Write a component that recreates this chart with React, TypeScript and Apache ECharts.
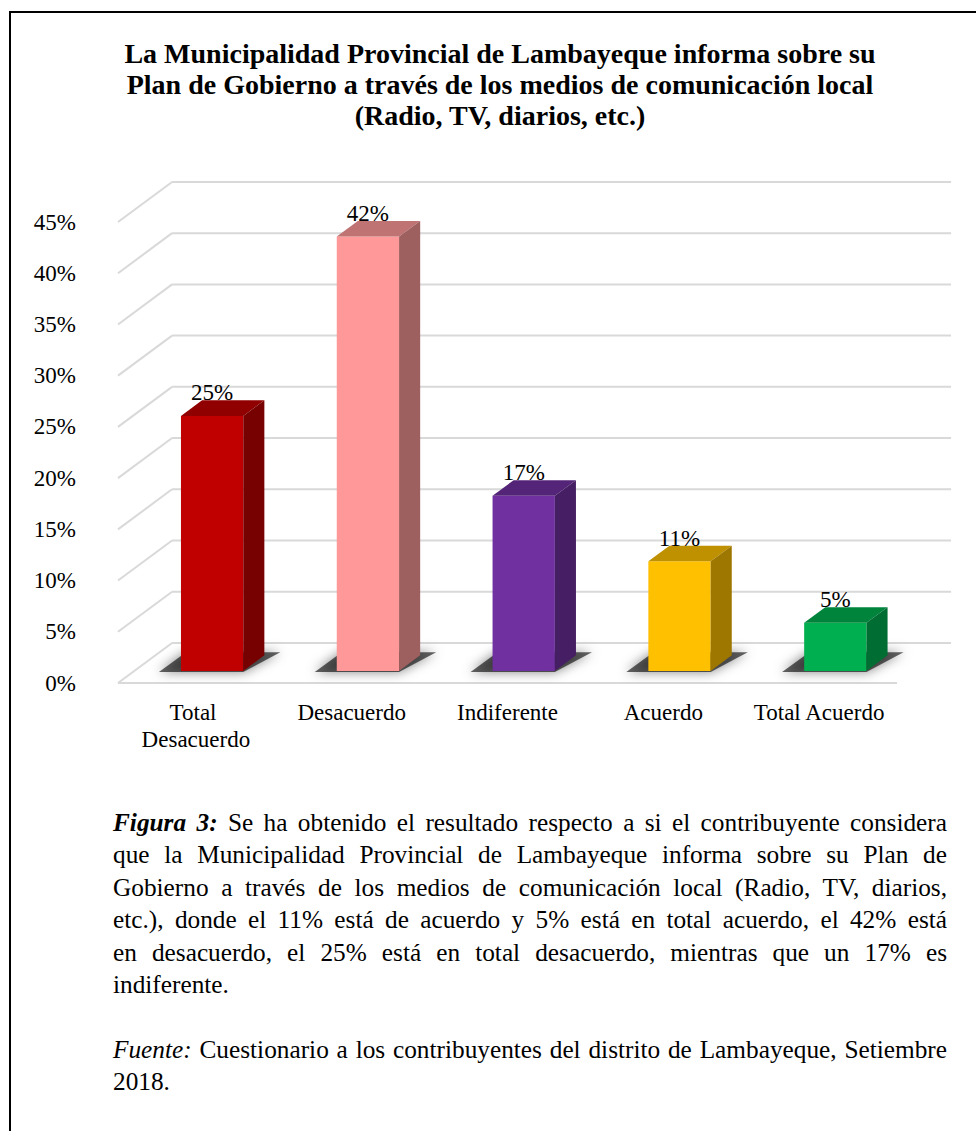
import React, { useEffect, useRef } from "react";
import * as echarts from "echarts";

const categories = ["Total Desacuerdo", "Desacuerdo", "Indiferente", "Acuerdo", "Total Acuerdo"];
const values = [24.9, 42.4, 17.1, 10.7, 4.7];
const yTicks = [0, 5, 10, 15, 20, 25, 30, 35, 40, 45];
const frontColors = ["#C00000", "#FF9999", "#7030A0", "#FFC000", "#00B050"];
const topColors = ["#900000", "#BF7373", "#542478", "#BF9000", "#00843C"];
const sideColors = ["#770000", "#9E5F5F", "#451E63", "#9E7700", "#006D32"];

const titleLines = [
  "La Municipalidad Provincial de Lambayeque informa sobre su",
  "Plan de Gobierno a través de los medios de comunicación local",
  "(Radio, TV, diarios, etc.)",
];

const captionLines = [
  "Se ha obtenido el resultado respecto a si el contribuyente considera",
  "que la Municipalidad Provincial de Lambayeque informa sobre su Plan de",
  "Gobierno a través de los medios de comunicación local (Radio, TV, diarios,",
  "etc.), donde el 11% está de acuerdo y 5% está en total acuerdo, el 42% está",
  "en desacuerdo, el 25% está en total desacuerdo, mientras que un 17% es",
  "indiferente.",
];
const sourceLines = ["Cuestionario a los contribuyentes del distrito de Lambayeque, Setiembre", "2018."];

const SERIF = "Liberation Serif, serif";

export default function App() {
  const ref = useRef<HTMLDivElement>(null);

  useEffect(() => {
    if (!ref.current) return;
    const chart = echarts.init(ref.current, null, { renderer: "svg" });

    const FLOOR_DX = 0.347;
    const SLOPE = 40 / 54;
    const BAR_OFF = 0.3;
    const BAR_DEPTH = 0.39;
    const BAR_W = 0.4;

    const option: any = {
      animation: false,
      backgroundColor: "#ffffff",
      graphic: [
        {
          type: "text",
          x: 500,
          y: 38,
          style: {
            text: titleLines.join("\n"),
            textAlign: "center",
            fontFamily: SERIF,
            fontWeight: "bold",
            fontSize: 28,
            lineHeight: 31,
            fill: "#000",
          },
        },
      ],
      grid: { left: 118, right: 79, top: 222, bottom: 448 },
      xAxis: {
        type: "category",
        data: categories,
        axisLine: { show: false },
        axisTick: { show: false },
        splitLine: { show: false },
        axisLabel: {
          interval: 0,
          color: "#000",
          fontFamily: SERIF,
          fontSize: 23,
          lineHeight: 27,
          margin: 16,
          width: 150,
          overflow: "break",
        },
      },
      yAxis: {
        type: "value",
        min: 0,
        max: 45,
        interval: 5,
        axisLine: { show: false },
        axisTick: { show: false },
        splitLine: { show: false },
        axisLabel: {
          formatter: "{value}%",
          color: "#000",
          fontFamily: SERIF,
          fontSize: 23,
          margin: 42,
        },
      },
      series: [
        {
          type: "custom",
          silent: true,
          data: yTicks.map((t) => [0, t]),
          z: 1,
          renderItem: (params: any, api: any) => {
            const v = api.value(1);
            const cs = params.coordSys;
            const band = api.size([1, 0])[0];
            const dx = band * FLOOR_DX;
            const dy = dx * SLOPE;
            const y = api.coord([0, v])[1];
            const x0 = cs.x;
            const x1 = cs.x + cs.width;
            const lineStyle = { stroke: "#D9D9D9", lineWidth: 2, fill: null };
            const children: any[] = [
              { type: "line", shape: { x1: x0 + dx, y1: y - dy, x2: x1 + dx, y2: y - dy }, style: lineStyle },
              { type: "line", shape: { x1: x0 + dx, y1: y - dy, x2: x0, y2: y }, style: lineStyle },
            ];
            if (v === 0) {
              children.push({ type: "line", shape: { x1: x0, y1: y, x2: x1, y2: y }, style: lineStyle });
            }
            return { type: "group", children };
          },
        },
        {
          type: "custom",
          silent: true,
          data: values.map((v, i) => [i, v]),
          z: 2,
          renderItem: (params: any, api: any) => {
            const i = api.value(0);
            const v = api.value(1);
            const band = api.size([1, 0])[0];
            const fdx = band * FLOOR_DX;
            const fdy = fdx * SLOPE;
            const offX = fdx * BAR_OFF;
            const offY = fdy * BAR_OFF;
            const bdx = fdx * BAR_DEPTH;
            const bdy = fdy * BAR_DEPTH;
            const w = band * BAR_W;
            const base = api.coord([i, 0]);
            const top = api.coord([i, v]);
            const fx = base[0] - w / 2 + offX;
            const by = base[1] - offY;
            const ty = top[1] - offY;
            const idx = params.dataIndex;
            return {
              type: "group",
              children: [
                {
                  type: "polygon",
                  shape: {
                    points: [
                      [fx - 22, by + 1],
                      [fx + w, by + 1],
                      [fx + w + bdx + 16, by - bdy - 3],
                      [fx + bdx - 16, by - bdy - 3],
                    ],
                  },
                  style: {
                    fill: "rgba(0,0,0,0.6)",
                    shadowBlur: 12,
                    shadowColor: "rgba(0,0,0,0.8)",
                  },
                },
                {
                  type: "rect",
                  shape: { x: fx, y: ty, width: w, height: by - ty },
                  style: { fill: frontColors[idx] },
                },
                {
                  type: "polygon",
                  shape: {
                    points: [
                      [fx, ty],
                      [fx + w, ty],
                      [fx + w + bdx, ty - bdy],
                      [fx + bdx, ty - bdy],
                    ],
                  },
                  style: { fill: topColors[idx] },
                },
                {
                  type: "polygon",
                  shape: {
                    points: [
                      [fx + w, ty],
                      [fx + w + bdx, ty - bdy],
                      [fx + w + bdx, by - bdy],
                      [fx + w, by],
                    ],
                  },
                  style: { fill: sideColors[idx] },
                },
                {
                  type: "text",
                  x: fx + w / 2,
                  y: ty - bdy + 4,
                  style: {
                    text: Math.round(v) + "%",
                    textAlign: "center",
                    textVerticalAlign: "bottom",
                    fontFamily: SERIF,
                    fontSize: 23,
                    fill: "#000",
                  },
                },
              ],
            };
          },
        },
      ],
    };

    chart.setOption(option);
    return () => chart.dispose();
  }, []);

  const lineStyle = (last: boolean): React.CSSProperties => ({
    textAlign: last ? "left" : "justify",
    textAlignLast: last ? "left" : "justify",
    height: "32.4px",
    whiteSpace: "nowrap",
  });

  const block: React.CSSProperties = {
    position: "absolute",
    left: 113,
    width: 834,
    fontFamily: SERIF,
    fontSize: 25.3,
    lineHeight: "32.4px",
    color: "#000",
  };

  return (
    <div
      style={{
        position: "absolute",
        left: 0,
        top: 0,
        width: 976,
        height: 1131,
        overflow: "hidden",
        background: "#fff",
      }}
    >
      <div ref={ref} style={{ position: "absolute", left: 0, top: 0, width: 976, height: 1131 }} />
      <div
        style={{
          position: "absolute",
          left: 9,
          top: 11,
          width: 1100,
          height: 1300,
          border: "2px solid #000",
          pointerEvents: "none",
        }}
      />
      <div style={{ ...block, top: 806 }}>
        {captionLines.map((ln, i) => (
          <div key={i} style={lineStyle(i === captionLines.length - 1)}>
            {i === 0 ? (
              <>
                <b>
                  <i>Figura 3:</i>
                </b>{" "}
                {ln}
              </>
            ) : (
              ln
            )}
          </div>
        ))}
      </div>
      <div style={{ ...block, top: 806 + 32.4 * 7 }}>
        {sourceLines.map((ln, i) => (
          <div key={i} style={lineStyle(i === sourceLines.length - 1)}>
            {i === 0 ? (
              <>
                <i>Fuente:</i> {ln}
              </>
            ) : (
              ln
            )}
          </div>
        ))}
      </div>
    </div>
  );
}
